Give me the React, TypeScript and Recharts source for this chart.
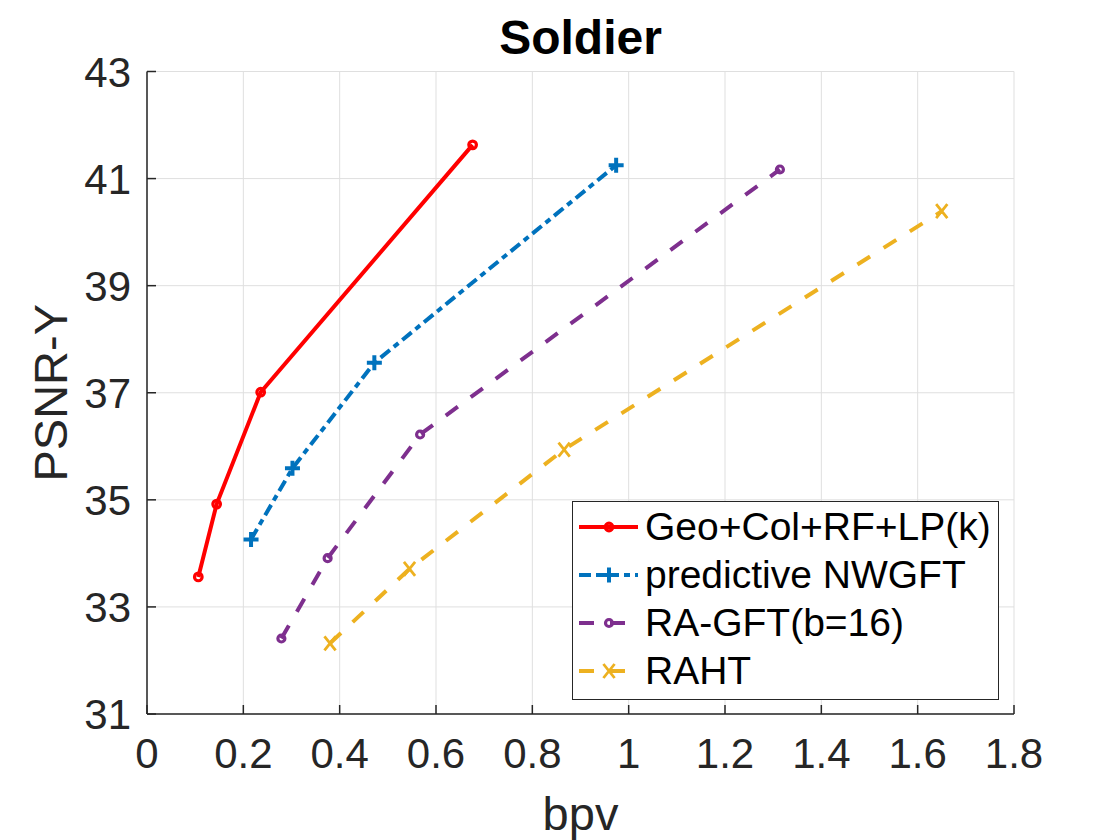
import React from 'react';
import { LineChart, Line, XAxis, YAxis, CartesianGrid, Legend } from 'recharts';

// ---- data ----
const xTicks = [0, 0.2, 0.4, 0.6, 0.8, 1, 1.2, 1.4, 1.6, 1.8];
const yTicks = [31, 33, 35, 37, 39, 41, 43];

const geoX = [0.1065, 0.1446, 0.236, 0.676];
const geoY = [33.56, 34.92, 37.01, 41.63];

const nwgftX = [0.216, 0.302, 0.472, 0.974];
const nwgftY = [34.26, 35.59, 37.56, 41.25];

const ragftX = [0.279, 0.375, 0.567, 1.314];
const ragftY = [32.41, 33.91, 36.22, 41.17];

const rahtX = [0.38, 0.545, 0.866, 1.65];
const rahtY = [32.32, 33.71, 35.94, 40.39];

const seriesNames = ['Geo+Col+RF+LP(k)', 'predictive NWGFT', 'RA-GFT(b=16)', 'RAHT'];

const toPoints = (xs: number[], ys: number[]) => xs.map((x, i) => ({ x, y: ys[i] }));

// ---- styles ----
const FONT = '"Liberation Sans", Arial, Helvetica, sans-serif';
const AXIS = '#262626';
const GRID = '#dfdfdf';

type MarkerKind = 'circle' | 'plus' | 'ring' | 'cross';
const STYLES: { color: string; dash?: string; marker: MarkerKind }[] = [
  { color: '#ff0000', dash: undefined, marker: 'circle' },
  { color: '#0072bd', dash: '12 5 6 5', marker: 'plus' },
  { color: '#7e2f8e', dash: '15 16', marker: 'ring' },
  { color: '#edb120', dash: '15 16', marker: 'cross' },
];

const SERIES = [
  { name: seriesNames[0], data: toPoints(geoX, geoY), ...STYLES[0] },
  { name: seriesNames[1], data: toPoints(nwgftX, nwgftY), ...STYLES[1] },
  { name: seriesNames[2], data: toPoints(ragftX, ragftY), ...STYLES[2] },
  { name: seriesNames[3], data: toPoints(rahtX, rahtY), ...STYLES[3] },
];

function Marker({ kind, cx, cy, color }: { kind: MarkerKind; cx: number; cy: number; color: string }) {
  if (kind === 'circle') {
    return <circle cx={cx} cy={cy} r={3.8} stroke={color} strokeWidth={3.2} fill="none" />;
  }
  if (kind === 'ring') {
    return <circle cx={cx} cy={cy} r={3.5} stroke={color} strokeWidth={3.2} fill="none" />;
  }
  if (kind === 'plus') {
    const h = 7.5;
    return (
      <path d={`M${cx - h},${cy}H${cx + h}M${cx},${cy - h}V${cy + h}`} stroke={color} strokeWidth={4} fill="none" />
    );
  }
  const h = 7;
  return (
    <path
      d={`M${cx - h * 0.8},${cy - h}L${cx + h * 0.8},${cy + h}M${cx - h * 0.8},${cy + h}L${cx + h * 0.8},${cy - h}`}
      stroke={color}
      strokeWidth={2.8}
      fill="none"
    />
  );
}

const BottomTick = (props: any) => {
  const { x, y, payload } = props;
  return (
    <g>
      <line x1={x} y1={y} x2={x} y2={y - 9} stroke={AXIS} strokeWidth={1.5} />
      <text x={x} y={y + 54} textAnchor="middle" fontSize={42} fontFamily={FONT} fill={AXIS}>
        {String(payload.value)}
      </text>
    </g>
  );
};

const TopTick = (props: any) => {
  const { x, y } = props;
  return <line x1={x} y1={y} x2={x} y2={y + 9} stroke={AXIS} strokeWidth={1.5} />;
};

const LeftTick = (props: any) => {
  const { x, y, payload } = props;
  return (
    <g>
      <line x1={x} y1={y} x2={x + 9} y2={y} stroke={AXIS} strokeWidth={1.5} />
      <text x={x - 16} y={y + 15} textAnchor="end" fontSize={42} fontFamily={FONT} fill={AXIS}>
        {String(payload.value)}
      </text>
    </g>
  );
};

const RightTick = (props: any) => {
  const { x, y } = props;
  return <line x1={x} y1={y} x2={x - 9} y2={y} stroke={AXIS} strokeWidth={1.5} />;
};

const XLabel = (props: any) => {
  const vb = props.viewBox || {};
  const cx = vb.x + vb.width / 2;
  return (
    <text x={cx} y={vb.y + 116} textAnchor="middle" fontSize={47} fontFamily={FONT} fill={AXIS}>
      bpv
    </text>
  );
};

const YLabel = (props: any) => {
  const vb = props.viewBox || {};
  const cx = vb.x + vb.width - 97;
  const cy = vb.y + vb.height / 2;
  return (
    <text
      x={cx}
      y={cy}
      transform={`rotate(-90 ${cx} ${cy})`}
      textAnchor="middle"
      dy={17}
      fontSize={47}
      fontFamily={FONT}
      fill={AXIS}
    >
      PSNR-Y
    </text>
  );
};

const LegendBox = () => (
  <div
    style={{
      width: 427,
      height: 199,
      boxSizing: 'border-box',
      border: `1.5px solid ${AXIS}`,
      background: '#fff',
      paddingTop: 1,
      fontFamily: FONT,
    }}
  >
    {SERIES.map((s) => (
      <div key={s.name} style={{ height: 48, display: 'flex', alignItems: 'center' }}>
        <svg width={72} height={48} style={{ flex: '0 0 auto' }}>
          <line x1={6} y1={24} x2={65} y2={24} stroke={s.color} strokeWidth={4} strokeDasharray={s.dash} />
          <Marker kind={s.marker} cx={36} cy={24} color={s.color} />
        </svg>
        <span style={{ fontSize: 39, lineHeight: '48px', color: '#000', whiteSpace: 'nowrap' }}>{s.name}</span>
      </div>
    ))}
  </div>
);

export default function App() {
  return (
    <div style={{ position: 'absolute', left: 0, top: 0, width: 1120, height: 840, background: '#fff' }}>
      <LineChart width={1120} height={840} margin={{ top: 71.5, right: 106, bottom: 66, left: 67 }}>
        <CartesianGrid stroke={GRID} strokeWidth={1} />
        <XAxis
          type="number"
          dataKey="x"
          domain={[0, 1.8]}
          ticks={xTicks}
          height={60}
          tickLine={false}
          tickSize={0}
          tickMargin={0}
          tick={<BottomTick />}
          axisLine={{ stroke: AXIS, strokeWidth: 1.5 }}
          label={<XLabel />}
          interval={0}
          allowDataOverflow
        />
        <XAxis
          xAxisId="top"
          orientation="top"
          type="number"
          dataKey="x"
          domain={[0, 1.8]}
          ticks={xTicks}
          height={0}
          tickLine={false}
          tickSize={0}
          tickMargin={0}
          tick={<TopTick />}
          axisLine={{ stroke: AXIS, strokeWidth: 1.5 }}
          interval={0}
          allowDataOverflow
        />
        <YAxis
          type="number"
          domain={[31, 43]}
          ticks={yTicks}
          width={80}
          tickLine={false}
          tickSize={0}
          tickMargin={0}
          tick={<LeftTick />}
          axisLine={{ stroke: AXIS, strokeWidth: 1.5 }}
          label={<YLabel />}
          interval={0}
          allowDataOverflow
        />
        <YAxis
          yAxisId="right"
          orientation="right"
          type="number"
          domain={[31, 43]}
          ticks={yTicks}
          width={0}
          tickLine={false}
          tickSize={0}
          tickMargin={0}
          tick={<RightTick />}
          axisLine={{ stroke: AXIS, strokeWidth: 1.5 }}
          interval={0}
          allowDataOverflow
        />
        {SERIES.map((s) => (
          <Line
            key={s.name}
            name={s.name}
            data={s.data}
            dataKey="y"
            type="linear"
            stroke={s.color}
            strokeWidth={4}
            strokeDasharray={s.dash}
            isAnimationActive={false}
            activeDot={false}
            dot={(p: any) => (
              <Marker key={`${s.name}-${p.index}`} kind={s.marker} cx={p.cx} cy={p.cy} color={s.color} />
            )}
          />
        ))}
        <Legend
          layout="vertical"
          align="center"
          verticalAlign="middle"
          content={<LegendBox />}
          wrapperStyle={{ left: 572, top: 501, width: 427, height: 199 }}
        />
      </LineChart>
      <svg
        width={1120}
        height={70}
        style={{ position: 'absolute', left: 0, top: 0, pointerEvents: 'none' }}
      >
        <text x={580.5} y={54} textAnchor="middle" fontSize={48} fontWeight="bold" fontFamily={FONT} fill="#000">
          Soldier
        </text>
      </svg>
    </div>
  );
}
